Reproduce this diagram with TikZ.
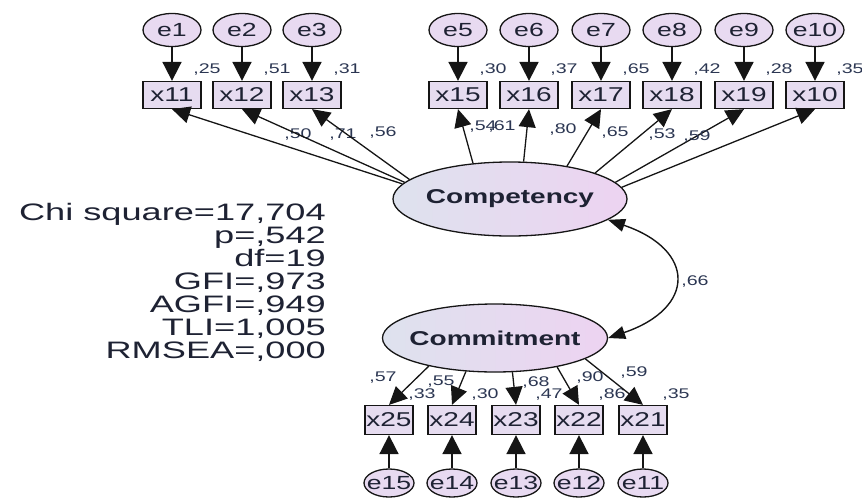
\documentclass[tikz,border=0pt]{standalone}
\usepackage{fontspec}
\setmainfont[FakeStretch=1.4]{Liberation Sans}
\newfontfamily\fitfont[FakeStretch=1.52]{Liberation Sans}
\usetikzlibrary{shapes.geometric,arrows.meta}

\definecolor{lineCol}{HTML}{151515}
\definecolor{boxFill}{HTML}{E6DCF0}
\definecolor{errFill}{HTML}{E8DAF1}
\definecolor{latLeft}{HTML}{DEE2EE}
\definecolor{latRight}{HTML}{EDD3F1}
\definecolor{estText}{HTML}{2B3652}
\definecolor{mainText}{HTML}{1E2233}

\tikzset{
  obsbox/.style={draw=lineCol, line width=1.3pt, fill=boxFill, minimum width=58pt,
    minimum height=27pt, inner sep=0pt, text=mainText, font=\fontsize{20}{22}\selectfont},
  errcirc/.style={ellipse, draw=lineCol, line width=1.3pt, fill=errFill,
    minimum width=58pt, minimum height=33pt, inner sep=0pt},
  errtext/.style={text=mainText, inner sep=0pt, font=\fontsize{19}{21}\selectfont},
  latent/.style={ellipse, draw=lineCol, line width=1.3pt, left color=latLeft,
    right color=latRight, inner sep=0pt},
  latentText/.style={text=mainText, inner sep=0pt, font=\fontsize{20}{22}\selectfont\bfseries},
  errarrow/.style={-{Triangle[length=19pt,width=19pt]}, line width=1.8pt, draw=lineCol},
  patharrow/.style={-{Triangle[length=18pt,width=17pt]}, line width=1.3pt, draw=lineCol},
  covarrow/.style={{Triangle[length=17pt,width=13pt]}-{Triangle[length=17pt,width=13pt]},
    line width=1.4pt, draw=lineCol},
  estlabel/.style={text=estText, inner sep=0pt, font=\fontsize{14}{16}\selectfont},
  fitText/.style={text=mainText, inner sep=0pt, text height=17pt, text depth=3pt,
    font=\fontsize{23.8}{26}\fitfont},
}

\begin{document}
\begin{tikzpicture}[x=1pt, y=-1pt]
    \useasboundingbox (0,0) rectangle (862,498);

    % Latent variables
    \node[latent, minimum width=234pt, minimum height=74pt,
          label={[latentText]center:Competency}] (comp) at (510,199) {};
    \node[latent, minimum width=225pt, minimum height=68pt,
          label={[latentText]center:Commitment}] (comm) at (495,338) {};

    % Competency indicators with errors
    \foreach \e/\x/\px/\r in {1/11/172/25, 2/12/242/51, 3/13/312/31, 5/15/458/30,
                              6/16/529/37, 7/17/601/65, 8/18/672/42, 9/19/744/28, 10/10/815/35} {
        \node[errcirc, label={[errtext]center:e\e}] (e\e) at (\px,30) {};
        \node[obsbox] (x\x) at (\px,95) {x\x};
        \draw[errarrow] (e\e) -- (x\x);
        \node[estlabel] (r\x) at ([shift={(35,-25)}]x\x) {,\r};
    }

    % Loadings of Competency
    \foreach \x/\ang/\lx/\ly/\w in {11/172/298/135/50, 12/171/343/135/71, 13/169/383/133/56,
                                    15/136/483/127/54, 16/70/502/127/61, 17/30/563/130/80,
                                    18/17/615/133/65, 19/9/662/135/53, 10/6/697/137/59} {
        \draw[patharrow] (comp.\ang) -- (x\x.south);
        \node[estlabel] (w\x) at (\lx,\ly) {,\w};
    }

    % Commitment indicators with errors
    \foreach \e/\x/\px/\ang/\lx/\ly/\w/\r in {15/25/389/-157.5/383/378/57/33,
                                              14/24/452/-131.4/441/382/55/30,
                                              13/23/516/-63/536/383/68/47,
                                              12/22/579/-25.6/590/378/90/86,
                                              11/21/643/-13.5/634/373/59/35} {
        \node[obsbox, minimum width=48pt, minimum height=29pt] (x\x) at (\px,420) {x\x};
        \node[errcirc, minimum width=50pt, minimum height=28pt,
              label={[errtext]center:e\e}] (e\e) at (\px,483) {};
        \draw[errarrow] (e\e) -- (x\x);
        \draw[patharrow] (comm.\ang) -- (x\x.north);
        \node[estlabel] (w\x) at (\lx,\ly) {,\w};
        \node[estlabel] (r\x) at ([shift={(33,-25)}]x\x) {,\r};
    }

    % Correlation
    \draw[covarrow] (comp.-12) .. controls +(88,30) and +(88,-30) .. (comm.east);
    \node[estlabel] (cov) at (695,282) {,66};

    % Fit indices
    \foreach \txt [count=\i] in {{Chi square=17,704},{p=,542},{df=19},{GFI=,973},
                                 {AGFI=,949},{TLI=1,005},{RMSEA=,000}}
        \node[fitText, anchor=base east] (fit\i) at (326,{196.9+23.1*\i}) {\txt};

\end{tikzpicture}
\end{document}
